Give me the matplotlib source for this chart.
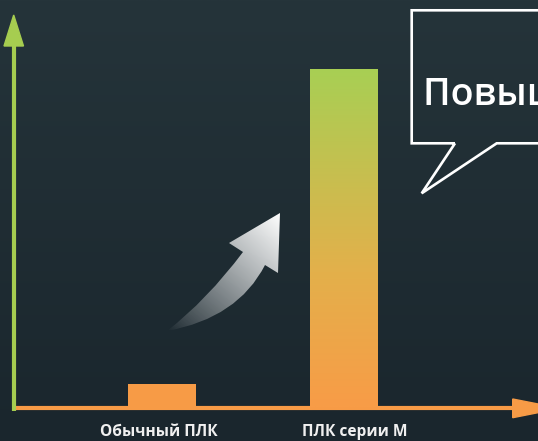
import numpy as np
import matplotlib
matplotlib.use("Agg")
import matplotlib.pyplot as plt
from matplotlib.patches import PathPatch, Polygon
from matplotlib.path import Path
from matplotlib.colors import to_rgb

# ---- data ----
categories = ["Обычный ПЛК", "ПЛК серии М"]
values = [6.8, 100]
label_offsets_px = [-3, 11]
bubble_text = "Повышение производительности"

W, H = 538, 441
fig = plt.figure(figsize=(W / 100, H / 100), dpi=100)

# background / decoration axes in pixel coordinates
bg = fig.add_axes([0, 0, 1, 1], zorder=0)
bg.set_xlim(0, W)
bg.set_ylim(H, 0)
bg.axis("off")
top_c = np.array(to_rgb("#25343a"))
bot_c = np.array(to_rgb("#1a262d"))
t = np.linspace(0, 1, 256)[:, None, None]
grad = top_c * (1 - t) + bot_c * t
grad = np.repeat(grad, 2, axis=1)
bg.imshow(grad, extent=[0, W, H, 0], aspect="auto", zorder=0)

# speech bubble
bub = [(455, 143.3), (421.7, 193.3), (496.7, 143.3), (600, 143.3), (600, 10.3),
       (411.7, 10.3), (411.7, 143.3)]
bg.add_patch(Polygon(bub, closed=True, fill=False, edgecolor="white", lw=1.9,
                     joinstyle="miter", zorder=2))
bg.text(423, 95, bubble_text, color="white", fontsize=27, fontfamily="Open Sans",
        fontweight="semibold", va="center", ha="left", zorder=3)

# curved gradient arrow (decoration)
verts = [(243, 252), (229, 243), (280, 213), (278, 273), (265, 265),
         (238, 318), (167, 331), (207, 300), (243, 252)]
codes = [Path.MOVETO, Path.LINETO, Path.LINETO, Path.LINETO, Path.LINETO,
         Path.CURVE3, Path.CURVE3, Path.CURVE3, Path.CURVE3]
apath = Path(verts, codes)
apatch = PathPatch(apath, facecolor="none", edgecolor="none")
bg.add_patch(apatch)
x0, x1, y0, y1 = 160, 285, 205, 335
xx, yy = np.meshgrid(np.linspace(x0, x1, 200), np.linspace(y0, y1, 200))
d = np.array([280 - 167, 213 - 330], float)
proj = ((xx - 167) * d[0] + (yy - 330) * d[1]) / (d @ d)
a = np.clip(proj, 0, 1) ** 0.9
img = np.zeros((200, 200, 4))
img[..., :3] = 1.0
img[..., 3] = a
im = bg.imshow(img, extent=[x0, x1, y1, y0], aspect="auto", zorder=2)
im.set_clip_path(apatch)

# axis arrows
green = "#a6cd50"
orange = "#f79b46"
bg.plot([13.7, 13.7], [411, 44], color=green, lw=3, solid_capstyle="butt", zorder=3)
bg.add_patch(Polygon([(4, 46), (23.5, 46), (13.7, 15)], closed=True, color=green, zorder=3))
bg.plot([15.5, 514], [408.3, 408.3], color=orange, lw=3, solid_capstyle="butt", zorder=3)
bg.add_patch(Polygon([(512.7, 399), (512.7, 417.7), (560, 408.3)], closed=True,
                     color=orange, zorder=3))

# chart axes
ax = fig.add_axes([0, 34 / H, 1, 407 / H], zorder=1)
ax.patch.set_alpha(0)
spacing = 182.0
x = np.arange(len(categories))
bw = 68 / spacing
bars = ax.bar(x, values, width=bw, color=[orange, "none"], edgecolor="none")

# gradient for second bar
g_top = np.array(to_rgb("#a8cf54"))
g_mid = np.array(to_rgb("#e3b04b"))
g_bot = np.array(to_rgb("#f89c47"))
tt = np.linspace(0, 1, 256)
cols = np.where(tt[:, None] < 0.6,
                g_top * (1 - tt[:, None] / 0.6) + g_mid * (tt[:, None] / 0.6),
                g_mid * (1 - (tt[:, None] - 0.6) / 0.4) + g_bot * ((tt[:, None] - 0.6) / 0.4))
gimg = np.repeat(cols[:, None, :], 2, axis=1)
b2 = bars[1]
gi = ax.imshow(gimg, extent=[b2.get_x(), b2.get_x() + b2.get_width(), 0, b2.get_height()],
               aspect="auto", origin="upper", zorder=2)
gi.set_clip_path(b2)
ax.set_xlim(-162 / spacing, (W - 162) / spacing)
ax.set_ylim(0, 407 / 338 * 100)
ax.axis("off")

for xi, lab, off in zip(x, categories, label_offsets_px):
    ax.annotate(lab, xy=(xi, 0), xycoords="data", xytext=(off * 0.72, -24.5 * 0.72),
                textcoords="offset points", ha="center", va="center",
                color="#f0f0f0", fontsize=11.2, fontfamily="Open Sans",
                fontweight="bold", annotation_clip=False)

fig.savefig("out.png", dpi=100)
